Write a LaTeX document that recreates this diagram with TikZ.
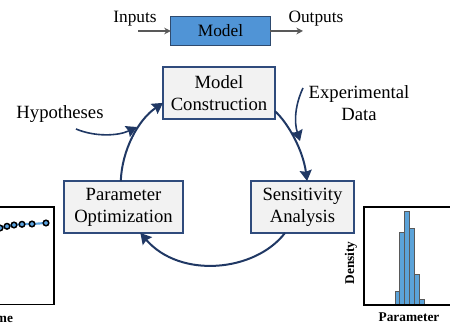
\documentclass[tikz,border=0pt]{standalone}
\usepackage{fontspec}
\setmainfont{Liberation Serif}
\usetikzlibrary{arrows.meta}
\definecolor{navyline}{HTML}{203864}
\definecolor{boxedge}{HTML}{2F4B7C}
\definecolor{boxfill}{HTML}{F2F2F2}
\definecolor{modelfill}{HTML}{5094D6}
\definecolor{modeledge}{HTML}{2E4A6E}
\definecolor{grayline}{HTML}{595959}
\definecolor{barfill}{HTML}{5BA3D9}
\definecolor{curveblue}{HTML}{5BA3E0}
\tikzset{
  x=0.75pt,y=-0.75pt,
  stepnode/.style={draw=boxedge,fill=boxfill,line width=1.5pt,inner sep=0pt,outer sep=0pt,align=center,
    minimum height=39pt,font=\fontsize{14}{16.5}\selectfont},
  plain/.style={inner sep=0pt,outer sep=0pt,align=center,font=\fontsize{14}{16.5}\selectfont},
  small/.style={inner sep=0pt,outer sep=0pt,font=\fontsize{13}{15}\selectfont},
  axislabel/.style={inner sep=0pt,outer sep=0pt,font=\fontsize{10}{12}\selectfont\bfseries},
  cycle/.style={draw=navyline,line width=1.5pt,-{Stealth[length=8pt,width=9pt,inset=1pt]}},
  feed/.style={draw=navyline,line width=1.2pt,-{Stealth[length=8pt,width=9pt,inset=1pt]}},
  flowarrow/.style={draw=grayline,line width=1pt,-{Stealth[length=5pt,width=5pt]}},
  frame/.style={draw=black,line width=1pt,fill=white},
  bar/.style={draw=grayline,fill=barfill,line width=0.7pt},
  dot/.style={draw=black,fill=curveblue,line width=1.1pt},
}
\begin{document}
\begin{tikzpicture}
\useasboundingbox (0,0) rectangle (450,327);
\clip (0,0) rectangle (450,327);
% top flow
\node[draw=modeledge,fill=modelfill,line width=0.9pt,inner sep=0pt,outer sep=0pt,minimum width=74.5pt,minimum height=22pt,font=\fontsize{13}{15}\selectfont] (model) at (220.5,31) {Model};
\node[small] (inputs) at (135,19) {Inputs};
\node[small] (outputs) at (316,19) {Outputs};
\coordinate (instart) at (138,31);
\coordinate (outend) at (303,31);
\draw[flowarrow] (instart) -- (model.west);
\draw[flowarrow] (model.east) -- (outend);
% cycle boxes
\node[stepnode,minimum width=84pt] (mc) at (219,93) {Model\\Construction};
\node[stepnode,minimum width=89pt] (po) at (123.5,207) {Parameter\\Optimization};
\node[stepnode,minimum width=77pt] (sa) at (302.5,207) {Sensitivity\\Analysis};
% cycle arrows
\draw[cycle] (mc.-18.5) .. controls (288,123) and (303,150) .. (sa.80);
\draw[cycle] (sa.236) .. controls (255,272) and (180,279) .. (po.-57.6);
\draw[cycle] (po.96.6) .. controls (122,150) and (138,120) .. (mc.190.6);
% inputs to cycle
\node[plain] (hyp) at (60,114) {Hypotheses};
\node[plain] (exp) at (359,103) {Experimental\\Data};
\coordinate (hypstart) at (76,129);
\coordinate (hypend) at (137,127);
\coordinate (expstart) at (303,88);
\coordinate (expend) at (300,141);
\draw[feed] (hypstart) .. controls (95,137) and (118,136) .. (hypend);
\draw[feed] (expstart) .. controls (295,105) and (294,122) .. (expend);
% left chart
\draw[frame] (-30,207) rectangle (54,304.5);
\draw[curveblue,line width=1.6pt] (-6,230) -- (0,228) -- (7,226) -- (14,225) -- (22,224) -- (32,224) -- (46,223);
\foreach \px/\py in {0/228,7/226.3,14/225,22/224.3,32/224,46/223}
  \draw[dot] (\px,\py) circle (2.1pt);
\node[axislabel,anchor=east] (timelabel) at (13,318) {Time};
% right chart
\draw[frame] (364,207) rectangle (470,305);
\foreach \xa/\xb/\ytop in {395/399.7/291.7,399.7/404.7/232.3,404.7/409.7/211,409.7/414.3/228,414.3/419.3/274.7,419.3/424/299.3}
  \draw[bar] (\xa,304.5) rectangle (\xb,\ytop);
\draw[black,line width=1pt] (364,305) -- (450,305);
\node[axislabel,rotate=90] (density) at (351,263) {Density};
\node[axislabel] (paramlabel) at (409,317) {Parameter};
\end{tikzpicture}
\end{document}
